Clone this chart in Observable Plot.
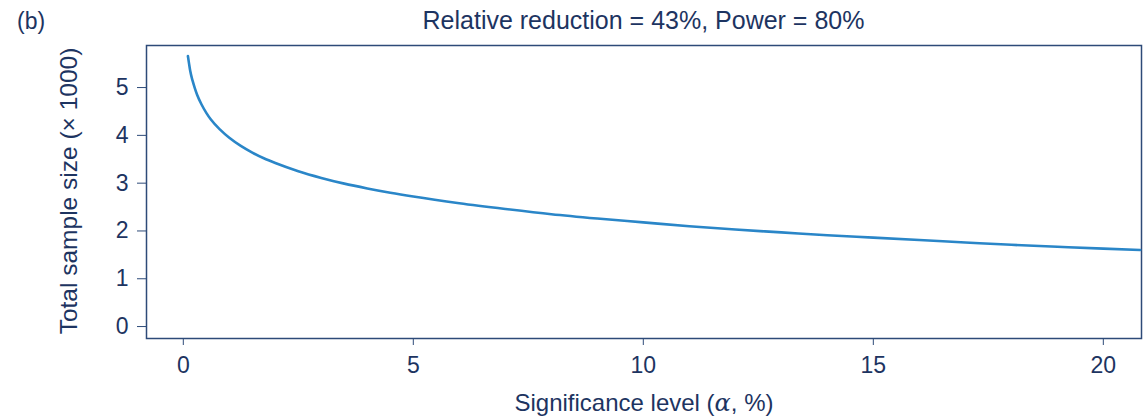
<!DOCTYPE html>
<html>
<head>
<meta charset="utf-8">
<script src="https://cdn.jsdelivr.net/npm/d3@7"></script>
<script src="https://cdn.jsdelivr.net/npm/@observablehq/plot@0.6"></script>
<style>
  body { margin: 0; background: #fff; }
  #chart { position: relative; width: 1145px; height: 416px; font-family: "Liberation Sans", Arial, sans-serif; color: #1d3461; }
  #chart .panel { position: absolute; left: 17px; top: 7px; font-size: 23px; line-height: 28px; }
  #chart .title { position: absolute; left: 146px; width: 995px; top: 6px; text-align: center; font-size: 25px; line-height: 28px; }
  #chart svg { position: absolute; left: 0; top: 0; }
</style>
</head>
<body>
<div id="chart">
  <div class="panel">(b)</div>
  <div class="title">Relative reduction = 43%, Power = 80%</div>
</div>
<script>
// Significance level α (%) and total sample size (thousands)
const alphaPct = [0.1, 0.125, 0.15, 0.2, 0.25, 0.3, 0.4, 0.5, 0.6, 0.8, 1, 1.25, 1.5, 1.75, 2, 2.5, 3, 3.5, 4, 4.5, 5, 6, 7, 8, 9, 10, 11, 12, 13, 14, 15, 16, 17, 18, 19, 20, 20.8];
const sampleK  = [5.66, 5.50, 5.35, 5.15, 4.99, 4.85, 4.64, 4.47, 4.33, 4.12, 3.95, 3.78, 3.64, 3.52, 3.42, 3.25, 3.11, 2.99, 2.89, 2.80, 2.72, 2.58, 2.46, 2.35, 2.26, 2.18, 2.10, 2.03, 1.97, 1.91, 1.86, 1.81, 1.76, 1.71, 1.67, 1.63, 1.60];
const xTicks = [0, 5, 10, 15, 20];
const yTicks = [0, 1, 2, 3, 4, 5];

const rows = alphaPct.map((a, i) => ({alpha: a, n: sampleK[i]}));

const ink = "#1d3461";
const axisInk = "#2d4a78";
const lineColor = "#2a86c8";

const plot = Plot.plot({
  width: 1145,
  height: 416,
  marginLeft: 146,
  marginRight: 4,
  marginTop: 45,
  marginBottom: 78,
  style: {color: ink, fontFamily: "'Liberation Sans', Arial, sans-serif", background: "transparent"},
  x: {domain: [-0.8, 20.83]},
  y: {domain: [-0.25, 5.88]},
  marks: [
    Plot.frame({stroke: axisInk, strokeWidth: 1.5}),
    Plot.axisX({ticks: xTicks, tickFormat: d => String(d), tickSize: 7, tickPadding: 11, fontSize: 23, label: null, stroke: axisInk}),
    Plot.axisY({ticks: yTicks, tickFormat: d => String(d), tickSize: 9, tickPadding: 9, fontSize: 23, label: null, stroke: axisInk}),
    Plot.line(rows, {x: "alpha", y: "n", stroke: lineColor, strokeWidth: 2.6, curve: "monotone-x"})
  ]
});

document.getElementById("chart").appendChild(plot);

const svg = d3.select(plot);
// Tick label size
svg.selectAll("text").filter(function() { return !this.closest("g[aria-label='line']"); })
  .attr("font-size", 23);

// Axis titles, with the italic α
const xl = svg.append("text")
  .attr("x", 644).attr("y", 411)
  .attr("text-anchor", "middle")
  .attr("font-size", 24)
  .attr("fill", ink);
xl.append("tspan").text("Significance level (");
xl.append("tspan").attr("font-style", "italic").attr("font-family", "'DejaVu Serif', serif").text("α");
xl.append("tspan").text(", %)");

svg.append("text")
  .attr("transform", "translate(77,191) rotate(-90)")
  .attr("text-anchor", "middle")
  .attr("font-size", 24.5)
  .attr("fill", ink)
  .text("Total sample size (× 1000)");
</script>
</body>
</html>
